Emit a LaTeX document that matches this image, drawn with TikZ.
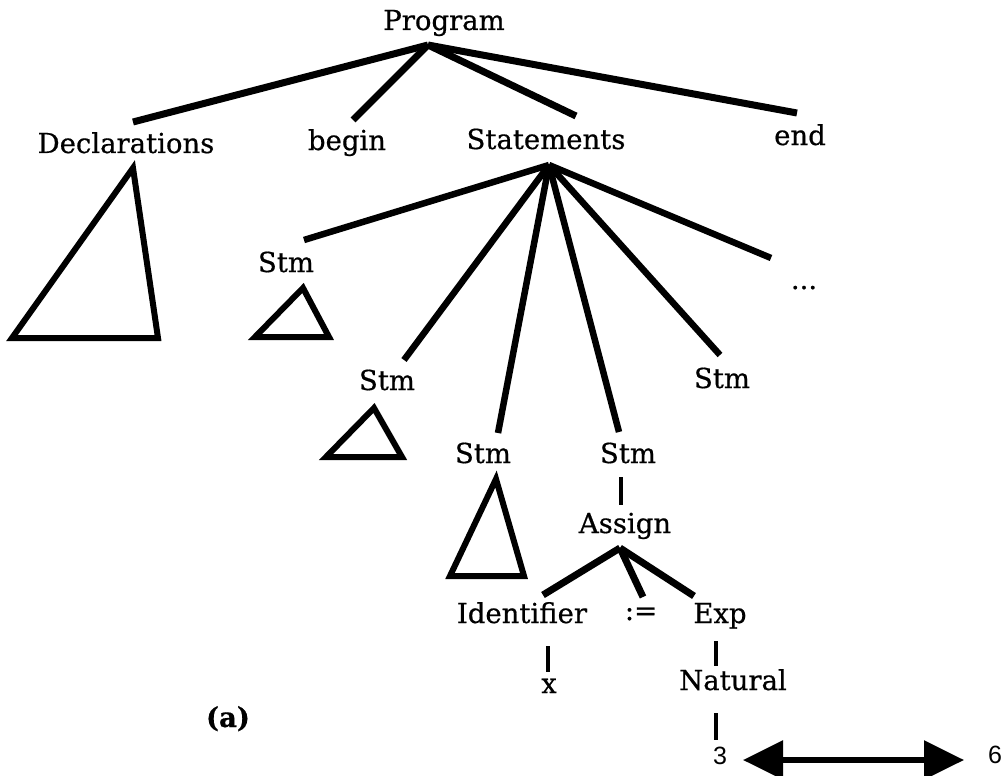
\documentclass[tikz,border=0pt]{standalone}
\usepackage{fontspec}
\setmainfont{DejaVu Serif}[FakeBold=0.6]
\newfontfamily\numfont{Liberation Sans}
\usetikzlibrary{arrows.meta}
\begin{document}
\begin{tikzpicture}[x=1pt,y=-1pt,
  lbl/.style={font=\fontsize{27.5}{31}\selectfont, inner sep=0pt, anchor=base},
  num/.style={font=\numfont\fontsize{25}{28}\selectfont, inner sep=0pt, anchor=base},
  branch/.style={line width=7pt, line cap=butt},
  twig/.style={line width=6.5pt, line cap=butt},
  stem/.style={line width=4.5pt, line cap=butt},
  subtree/.style={line width=6pt, line join=miter},
  pair/.style={line width=5.5pt, {Triangle[length=40pt,width=38pt]}-{Triangle[length=40pt,width=38pt]}},
]
\useasboundingbox (0,0) rectangle (1005,776);

% labels
\node[lbl] (prog)  at (444,30)  {Program};
\node[lbl] (decl)  at (126,153) {Declarations};
\node[lbl] (begin) at (347,150) {begin};
\node[lbl] (stmts) at (546,149) {Statements};
\node[lbl] (kwend) at (800,145) {end};
\node[lbl] (stma)  at (286,272) {Stm};
\node[lbl] (more)  at (804,289) {...};
\node[lbl] (stmb)  at (387,390) {Stm};
\node[lbl] (stme)  at (722,388) {Stm};
\node[lbl] (stmc)  at (483,463) {Stm};
\node[lbl] (stmd)  at (628,463) {Stm};
\node[lbl] (assign) at (625,533) {Assign};
\node[lbl] (ident) at (522,623) {Identifier};
\node[lbl] (becomes) at (641,620) {:=};
\node[lbl] (exp)   at (720,623) {Exp};
\node[lbl] (var)   at (549,693) {x};
\node[lbl] (nat)   at (733,690) {Natural};
\node[lbl] (cap)   at (228,727) {\bfseries (a)};
\node[num] (three) at (720,764) {3};
\node[num] (six)   at (995,763) {6};

% branch points and line ends
\coordinate (prog-hub)  at (428,45);
\coordinate (decl-in)   at (133,122);
\coordinate (begin-in)  at (353,120);
\coordinate (stmts-in)  at (576,116);
\coordinate (end-in)    at (797,113);
\coordinate (stmts-hub) at (549,165);
\coordinate (stma-in)   at (304,240);
\coordinate (stmb-in)   at (404,360);
\coordinate (stmc-in)   at (498,433);
\coordinate (stmd-in)   at (619,432);
\coordinate (stme-in)   at (720,355);
\coordinate (more-in)   at (771,258);
\coordinate (stmd-out)  at (621,477);
\coordinate (assign-in) at (621,505);
\coordinate (assign-hub) at (620,548);
\coordinate (ident-in)  at (543,595);
\coordinate (becomes-in) at (643,597);
\coordinate (exp-in)    at (694,596);
\coordinate (ident-out) at (548,646);
\coordinate (var-in)    at (548,672);
\coordinate (exp-out)   at (716,641);
\coordinate (nat-in)    at (716,666);
\coordinate (nat-out)   at (716,713);
\coordinate (three-in)  at (716,740);
\coordinate (three-r)   at (743,760);
\coordinate (six-l)     at (964,760);

% Program
\foreach \c in {decl-in,begin-in,stmts-in,end-in}
  \draw[branch] (prog-hub) -- (\c);
% Statements
\foreach \c in {stma-in,stmb-in,stmc-in,stmd-in,stme-in,more-in}
  \draw[twig] (stmts-hub) -- (\c);
% Assign
\draw[stem] (stmd-out) -- (assign-in);
\foreach \c in {ident-in,becomes-in,exp-in}
  \draw[branch] (assign-hub) -- (\c);
\draw[stem] (ident-out) -- (var-in);
\draw[stem] (exp-out) -- (nat-in);
\draw[stem] (nat-out) -- (three-in);

% collapsed subtrees
\draw[subtree] (133,168) -- (12,338) -- (158,338) -- cycle;
\draw[subtree] (303,288) -- (255,337) -- (329,337) -- cycle;
\draw[subtree] (374,408) -- (326,457) -- (402,457) -- cycle;
\draw[subtree] (496,479) -- (450,576) -- (524,576) -- cycle;

% value arrow
\draw[pair] (three-r) -- (six-l);
\end{tikzpicture}
\end{document}
